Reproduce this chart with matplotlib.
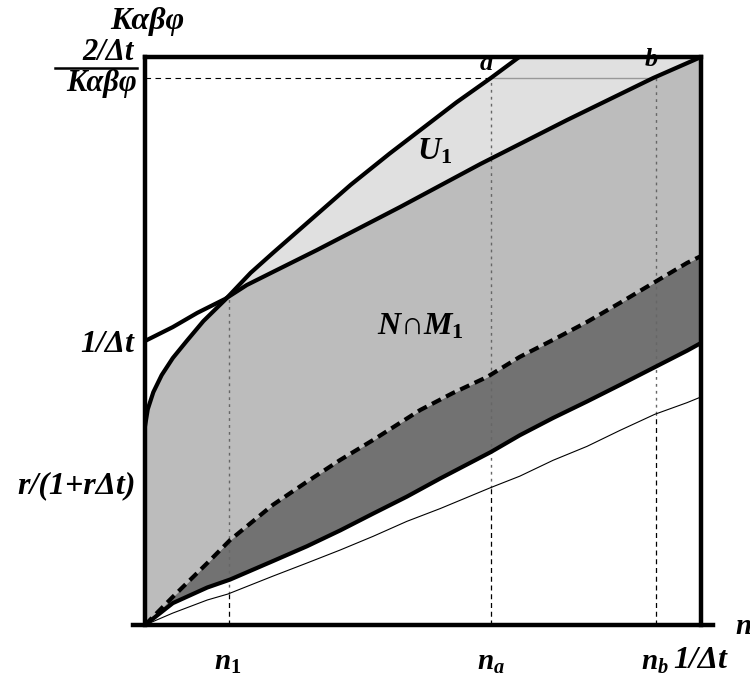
import numpy as np
import matplotlib
matplotlib.use("Agg")
import matplotlib.pyplot as plt
from matplotlib.lines import Line2D

plt.rcParams['mathtext.fontset'] = 'custom'
plt.rcParams['mathtext.it'] = 'Liberation Serif:italic:bold'
plt.rcParams['mathtext.rm'] = 'Liberation Serif:bold'
plt.rcParams['mathtext.bf'] = 'Liberation Serif:bold'
plt.rcParams['mathtext.default'] = 'it'

# ---- data (x in units of 1/dt, y in units of 1/dt) ----
curveA_x = [0, 0.005, 0.015, 0.030, 0.050, 0.075, 0.105, 0.144, 0.190, 0.230, 0.300,
            0.370, 0.440, 0.500, 0.560, 0.622, 0.680]
curveA_y = [0.700, 0.760, 0.820, 0.880, 0.940, 1.000, 1.070, 1.145, 1.240, 1.310, 1.430,
            1.550, 1.660, 1.750, 1.840, 1.926, 2.010]

curveB_x = [0, 0.050, 0.094, 0.144, 0.183, 0.230, 0.309, 0.459, 0.603, 0.759, 0.914, 1.0]
curveB_y = [1.0, 1.049, 1.099, 1.148, 1.197, 1.243, 1.320, 1.472, 1.623, 1.778, 1.926, 2.0]

dashed_x = [0, 0.050, 0.112, 0.153, 0.230, 0.291, 0.351, 0.410, 0.495, 0.554, 0.615, 0.674,
            0.734, 0.795, 0.854, 0.914, 0.975, 1.0]
dashed_y = [0, 0.099, 0.218, 0.299, 0.423, 0.504, 0.581, 0.651, 0.757, 0.817, 0.873, 0.944,
            1.004, 1.067, 1.134, 1.204, 1.275, 1.299]

lower_x = [0, 0.050, 0.112, 0.153, 0.230, 0.291, 0.351, 0.410, 0.471, 0.531, 0.622, 0.674,
           0.734, 0.795, 0.854, 0.914, 0.975, 1.0]
lower_y = [0, 0.077, 0.132, 0.160, 0.225, 0.277, 0.333, 0.392, 0.452, 0.516, 0.609, 0.668,
           0.729, 0.787, 0.845, 0.905, 0.966, 0.993]

thin_x = [0, 0.050, 0.112, 0.149, 0.230, 0.291, 0.351, 0.410, 0.471, 0.531, 0.622, 0.674,
          0.734, 0.795, 0.854, 0.917, 0.975, 1.0]
thin_y = [0, 0.042, 0.088, 0.109, 0.172, 0.218, 0.264, 0.312, 0.365, 0.410, 0.484, 0.524,
          0.580, 0.629, 0.685, 0.742, 0.783, 0.803]

n1, na, nb = 0.151, 0.622, 0.919
level_ab = 1.926

# ---- figure ----
W, H = 750, 675
fig = plt.figure(figsize=(7.5, 6.75), dpi=100)
ax = fig.add_axes([145 / W, 1 - 625 / H, 556 / W, 568 / H])
ax.set_xlim(0, 1)
ax.set_ylim(0, 2)
ax.set_xticks([])
ax.set_yticks([])

xs = np.linspace(0, 1, 1200)
A = np.interp(xs, curveA_x, curveA_y)
B = np.interp(xs, curveB_x, curveB_y)
D = np.interp(xs, dashed_x, dashed_y)
L = np.interp(xs, lower_x, lower_y)
Atop = np.minimum(A, 2.0)
upper_mid = np.minimum(A, B)

ax.fill_between(xs, B, Atop, where=(Atop >= B), color='#e0e0e0', lw=0, zorder=1)
ax.fill_between(xs, D, upper_mid, color='#bcbcbc', lw=0, zorder=1)
ax.fill_between(xs, L, D, color='#727272', lw=0, zorder=1)

# crossing of A and B
idx = np.where(np.diff(np.sign(A - B)))[0][0]
cross_y = B[idx]

# vertical guide lines
for xv, ytop in [(n1, cross_y), (na, level_ab), (nb, level_ab)]:
    ylow = np.interp(xv, thin_x, thin_y)
    ax.plot([xv, xv], [0, ylow], color='black', lw=0.9, ls=(0, (4, 3)), zorder=2)
    ax.plot([xv, xv], [ylow, ytop], color='#666666', lw=1.0, ls=(0, (2, 3)), zorder=2)

# horizontal guide line
ax.plot([0, na], [level_ab, level_ab], color='black', lw=0.8, ls=(0, (5, 4)), zorder=2)
ax.plot([na, nb], [level_ab, level_ab], color='#999999', lw=1.0, zorder=2)

# curves
ax.plot(thin_x, thin_y, color='black', lw=0.8, zorder=3)
ax.plot(lower_x, lower_y, color='black', lw=3, zorder=3, solid_capstyle='butt')
ax.plot(dashed_x, dashed_y, color='black', lw=3, dashes=(2.4, 1.4), zorder=3)
ax.plot(curveA_x, curveA_y, color='black', lw=3, zorder=3)
ax.plot(curveB_x, curveB_y, color='black', lw=3, zorder=3)

# spines
for s in ['left', 'top', 'right']:
    ax.spines[s].set_linewidth(3.2)
    ax.spines[s].set_zorder(4)
ax.spines['bottom'].set_visible(False)
ax.plot([-0.022, 1.022], [0, 0], color='black', lw=3.2, clip_on=False, zorder=5)

# ---- text ----
ff = 'Liberation Serif'
def ftext(px, py, s, size=18, ha='center', va='center'):
    fig.text(px / W, 1 - py / H, s, fontsize=size, ha=ha, va=va,
             family=ff, style='italic', weight='bold')

ftext(147, 22, 'Kαβφ', size=23)
ftext(134, 53, '2/Δt', size=22, ha='right')
ftext(137, 84, 'Kαβφ', size=22, ha='right')
fig.add_artist(Line2D([55 / W, 137 / W], [1 - 68 / H, 1 - 68 / H], color='black', lw=1.8))
ftext(134, 345, '1/Δt', size=23, ha='right')
ftext(136, 486, 'r/(1+rΔt)', size=23, ha='right')

ftext(228, 662, r'$n_1$', size=21)
ftext(491, 662, r'$n_a$', size=21)
ftext(655, 662, r'$n_b$', size=21)
ftext(700, 661, '1/Δt', size=23)
ftext(735, 626, 'n', size=21, ha='left')

ftext(486, 64, 'a', size=19)
ftext(651, 60, 'b', size=19)
ftext(435, 152, r'$U_1$', size=23)
ftext(420, 327, r'$N{\cap}M_1$', size=23)

fig.savefig('out.png', dpi=100)
